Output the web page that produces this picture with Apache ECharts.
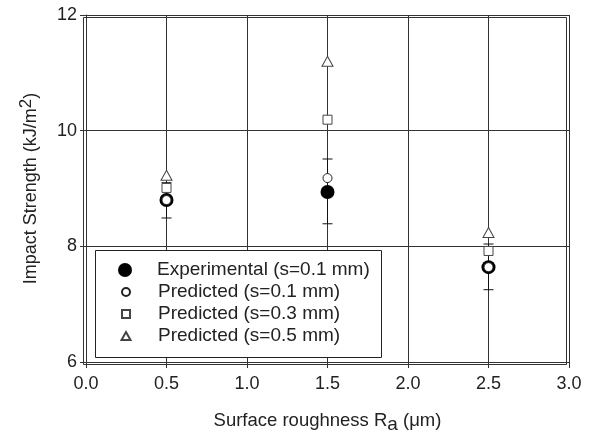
<!DOCTYPE html>
<html>
<head>
<meta charset="utf-8">
<script src="https://cdn.jsdelivr.net/npm/echarts@6/dist/echarts.min.js"></script>
<style>html,body{margin:0;padding:0;background:#fff}#c{width:589px;height:434px}</style>
</head>
<body>
<div id="c"></div>
<script>
const roughness = [0.5, 1.5, 2.5];
const experimental = [8.80, 8.94, 7.64];
const errLow = [8.49, 8.39, 7.25];
const errHigh = [9.10, 9.51, 8.04];
const pred01 = [8.80, 9.18, 7.64];
const pred03 = [9.01, 10.19, 7.92];
const pred05 = [9.23, 11.20, 8.24];
const seriesNames = ['Experimental (s=0.1 mm)', 'Predicted (s=0.1 mm)', 'Predicted (s=0.3 mm)', 'Predicted (s=0.5 mm)'];
const xTicks = [0, 0.5, 1, 1.5, 2, 2.5, 3];
const yTicks = [6, 8, 10, 12];

const FONT = 'Liberation Sans, Arial, sans-serif';
const pairs = a => roughness.map((x, i) => [x, a[i]]);

const chart = echarts.init(document.getElementById('c'), null, {renderer: 'canvas'});

function legendFor(i, symbol, w, h, cy) {
  return {
    data: [{name: seriesNames[i], icon: symbol}],
    left: 125 - w / 2, top: cy - 11, itemWidth: w, itemHeight: h,
    itemGap: 0, z: 20, padding: 0,
    textStyle: {fontFamily: FONT, fontSize: 19, color: '#222', padding: [0, 0, 0, 27 - w / 2], lineHeight: 22},
    inactiveColor: '#222'
  };
}

chart.setOption({
  animation: false,
  backgroundColor: '#fff',
  grid: {left: 86, right: 20, top: 15, bottom: 72, containLabel: false, outerBoundsMode: 'none'},
  xAxis: {
    type: 'value', min: xTicks[0], max: xTicks[xTicks.length - 1], interval: 0.5,
    name: 'Surface roughness R{sub|a} (μm)',
    nameLocation: 'middle', nameGap: 46,
    nameTextStyle: {fontFamily: FONT, fontSize: 18.5, color: '#222',
      rich: {sub: {fontFamily: FONT, fontSize: 19, color: '#222', padding: [7, 0, 0, 0]}}},
    axisLine: {show: true, lineStyle: {color: '#333', width: 1}},
    axisTick: {show: true, inside: false, length: 6, lineStyle: {color: '#333'}},
    axisLabel: {fontFamily: FONT, fontSize: 18, color: '#222', margin: 13,
      formatter: v => v.toFixed(1)},
    splitLine: {show: true, lineStyle: {color: '#333', width: 1}}
  },
  yAxis: {
    type: 'value', min: yTicks[0], max: yTicks[yTicks.length - 1], interval: 2,
    name: 'Impact Strength (kJ/m{sup|2})',
    nameLocation: 'middle', nameGap: 42,
    nameTextStyle: {fontFamily: FONT, fontSize: 18, color: '#222',
      rich: {sup: {fontFamily: FONT, fontSize: 17, color: '#222', padding: [0, 0, 9, 0]}}},
    axisLine: {show: true, lineStyle: {color: '#333', width: 1}},
    axisTick: {show: true, inside: false, length: 6, lineStyle: {color: '#333'}},
    axisLabel: {fontFamily: FONT, fontSize: 18, color: '#222', margin: 9},
    splitLine: {show: true, lineStyle: {color: '#333', width: 1}}
  },
  legend: [
    legendFor(0, 'circle', 14, 14, 270),
    legendFor(1, 'circle', 8, 8, 292),
    legendFor(2, 'rect', 8, 8, 314),
    legendFor(3, 'triangle', 9, 8, 336)
  ],
  graphic: [{
    type: 'rect', left: 95, top: 250, z: 10,
    shape: {width: 286, height: 107},
    style: {fill: '#fff', stroke: '#222', lineWidth: 1}
  }, {
    type: 'rect', right: 20, top: 15, z: 3, silent: true,
    shape: {width: 483, height: 347},
    style: {fill: 'none', stroke: '#333', lineWidth: 1}
  }],
  series: [
    {
      type: 'custom', name: 'err', z: 2,
      data: roughness.map((x, i) => [x, errLow[i], errHigh[i]]),
      renderItem: (params, api) => {
        const lo = api.coord([api.value(0), api.value(1)]);
        const hi = api.coord([api.value(0), api.value(2)]);
        const cw = 5;
        const st = {stroke: '#111', lineWidth: 1};
        return {type: 'group', children: [
          {type: 'line', shape: {x1: lo[0], y1: lo[1], x2: hi[0], y2: hi[1]}, style: st},
          {type: 'line', shape: {x1: lo[0] - cw, y1: lo[1], x2: lo[0] + cw, y2: lo[1]}, style: st},
          {type: 'line', shape: {x1: hi[0] - cw, y1: hi[1], x2: hi[0] + cw, y2: hi[1]}, style: st}
        ]};
      }
    },
    {
      type: 'scatter', name: seriesNames[0], z: 3, data: pairs(experimental),
      symbol: 'circle', symbolSize: 14,
      itemStyle: {color: '#000', borderWidth: 0, opacity: 1}
    },
    {
      type: 'scatter', name: seriesNames[1], z: 4, data: pairs(pred01),
      symbol: 'circle', symbolSize: 9,
      itemStyle: {color: '#fff', borderColor: '#222', borderWidth: 1, opacity: 1}
    },
    {
      type: 'scatter', name: seriesNames[2], z: 4, data: pairs(pred03),
      symbol: 'rect', symbolSize: 9,
      itemStyle: {color: '#fff', borderColor: '#444', borderWidth: 1, opacity: 1}
    },
    {
      type: 'scatter', name: seriesNames[3], z: 4, data: pairs(pred05),
      symbol: 'triangle', symbolSize: [11, 10],
      itemStyle: {color: '#fff', borderColor: '#444', borderWidth: 1, opacity: 1}
    }
  ]
});
</script>
</body>
</html>
